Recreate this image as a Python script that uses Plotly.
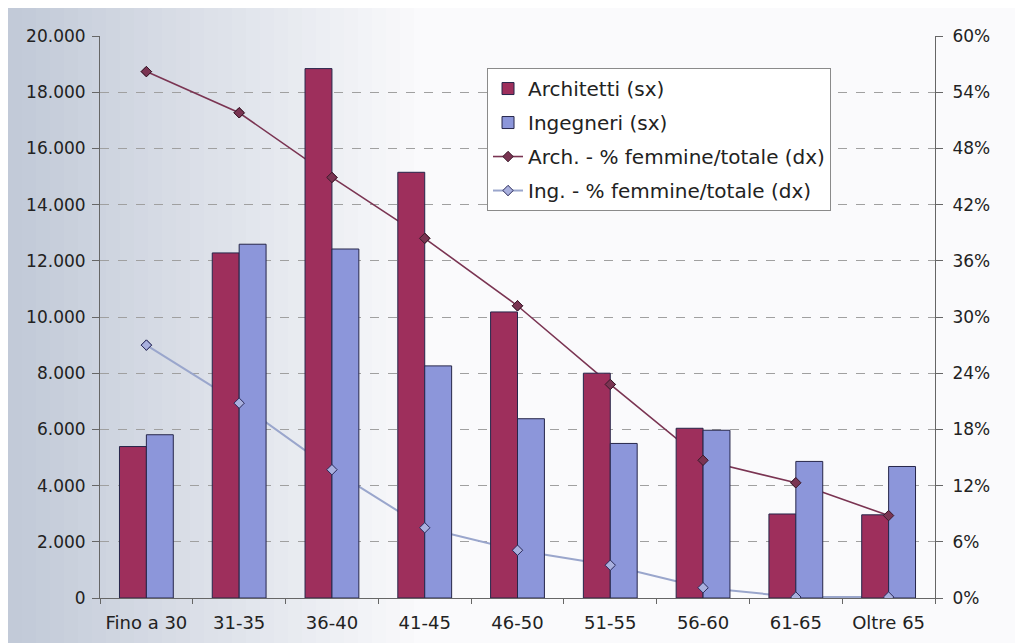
import plotly.graph_objects as go

categories = ["Fino a 30", "31-35", "36-40", "41-45", "46-50", "51-55", "56-60", "61-65", "Oltre 65"]
architetti = [5390, 12280, 18840, 15150, 10180, 8000, 6040, 2990, 2960]
ingegneri = [5810, 12590, 12420, 8260, 6380, 5500, 5970, 4860, 4680]
arch_pct = [56.2, 51.8, 44.9, 38.4, 31.2, 22.8, 14.7, 12.3, 8.8]
ing_pct = [27.0, 20.8, 13.7, 7.5, 5.1, 3.5, 1.1, 0.1, 0.1]

left_ticks = list(range(0, 20001, 2000))
right_ticks = list(range(0, 61, 6))
right_labels = [f"{v}%" for v in right_ticks]

FONT = "DejaVu Sans, Verdana, sans-serif"
ARCH_BAR = "#9E2F5C"
ING_BAR = "#8C96DA"
ARCH_LINE = "#7A3452"
ING_LINE = "#9AA6CC"
OUTLINE = "#26264a"

fig = go.Figure()

# lines (under the bars)
fig.add_trace(go.Scatter(x=categories, y=arch_pct, name="Arch. - % femmine/totale (dx)",
                         mode="lines+markers", yaxis="y",
                         line=dict(color=ARCH_LINE, width=1.6),
                         marker=dict(symbol="diamond", size=8, color=ARCH_LINE,
                                     line=dict(color="#3a1a2a", width=1)),
                         legendrank=3, legendgroup="c"))
fig.add_trace(go.Scatter(x=categories, y=ing_pct, name="Ing. - % femmine/totale (dx)",
                         mode="lines+markers", yaxis="y",
                         line=dict(color=ING_LINE, width=2),
                         marker=dict(symbol="diamond", size=8, color="#A9B0DE",
                                     line=dict(color="#2a2a5a", width=1)),
                         legendrank=4, legendgroup="d"))

# bars (on top)
fig.add_trace(go.Bar(x=categories, y=architetti, name="Architetti (sx)", yaxis="y2",
                     marker=dict(color=ARCH_BAR, line=dict(color=OUTLINE, width=1)),
                     legendrank=1, legendgroup="a"))
fig.add_trace(go.Bar(x=categories, y=ingegneri, name="Ingegneri (sx)", yaxis="y2",
                     marker=dict(color=ING_BAR, line=dict(color=OUTLINE, width=1)),
                     legendrank=2, legendgroup="b"))

# markers on top of bars
fig.add_trace(go.Scatter(x=categories, y=arch_pct, mode="markers", yaxis="y3", showlegend=False,
                         marker=dict(symbol="diamond", size=8, color=ARCH_LINE,
                                     line=dict(color="#3a1a2a", width=1)), hoverinfo="skip"))
fig.add_trace(go.Scatter(x=categories, y=ing_pct, mode="markers", yaxis="y3", showlegend=False,
                         marker=dict(symbol="diamond", size=8, color="#A9B0DE",
                                     line=dict(color="#2a2a5a", width=1)), hoverinfo="skip"))

# background gradient (photo-like shading on the left)
shapes = []
n = 30
for i in range(n):
    t = i / (n - 1)
    r = int(194 + (250 - 194) * t)
    g = int(202 + (250 - 202) * t)
    b = int(216 + (252 - 216) * t)
    shapes.append(dict(type="rect", xref="paper", yref="paper", layer="below",
                       x0=(-92 + i * 14) / 835, x1=(-92 + (i + 1) * 14 + 1) / 835,
                       y0=-45 / 562, y1=(635 - 45) / 562,
                       fillcolor=f"rgb({r},{g},{b})", line=dict(width=0)))

fig.update_layout(
    width=1015, height=635,
    margin=dict(l=92, r=88, t=28, b=45),
    paper_bgcolor="#FAFAFC",
    plot_bgcolor="rgba(0,0,0,0)",
    separators=",.",
    font=dict(family=FONT, size=17, color="#222222"),
    barmode="group", bargap=0.42, bargroupgap=0,
    shapes=shapes,
    xaxis=dict(type="category", range=[-0.5, 8.5], showline=True, linecolor="#666666",
               linewidth=1, ticks="outside", ticklen=5, tickcolor="#666666",
               tickson="boundaries", showgrid=False, tickfont=dict(size=18),
               tickangle=0, automargin=False, ticklabelstandoff=8),
    yaxis=dict(side="right", range=[0, 60], tickvals=right_ticks, ticktext=right_labels,
               showline=True, linecolor="#666666", linewidth=1, ticks="outside",
               ticklen=7, tickcolor="#666666", showgrid=False, zeroline=False,
               tickfont=dict(size=17), ticklabelstandoff=6, automargin=False),
    yaxis2=dict(overlaying="y", side="left", range=[0, 20000], tickvals=left_ticks,
                tickformat=",d", showline=True, linecolor="#666666", linewidth=1,
                ticks="outside", ticklen=7, tickcolor="#666666",
                showgrid=True, gridcolor="#a0a0a0", griddash="dash", gridwidth=1,
                zeroline=False, tickfont=dict(size=17), ticklabelstandoff=3,
                automargin=False),
    yaxis3=dict(overlaying="y", side="right", range=[0, 60], visible=False),
    legend=dict(x=0.4635, y=0.943, xanchor="left", yanchor="top",
                bgcolor="#FFFFFF", bordercolor="#8a8a8a", borderwidth=1,
                font=dict(family=FONT, size=20, color="#222222"),
                traceorder="grouped", tracegroupgap=5, itemwidth=30),
)

fig.write_html("out.html")
